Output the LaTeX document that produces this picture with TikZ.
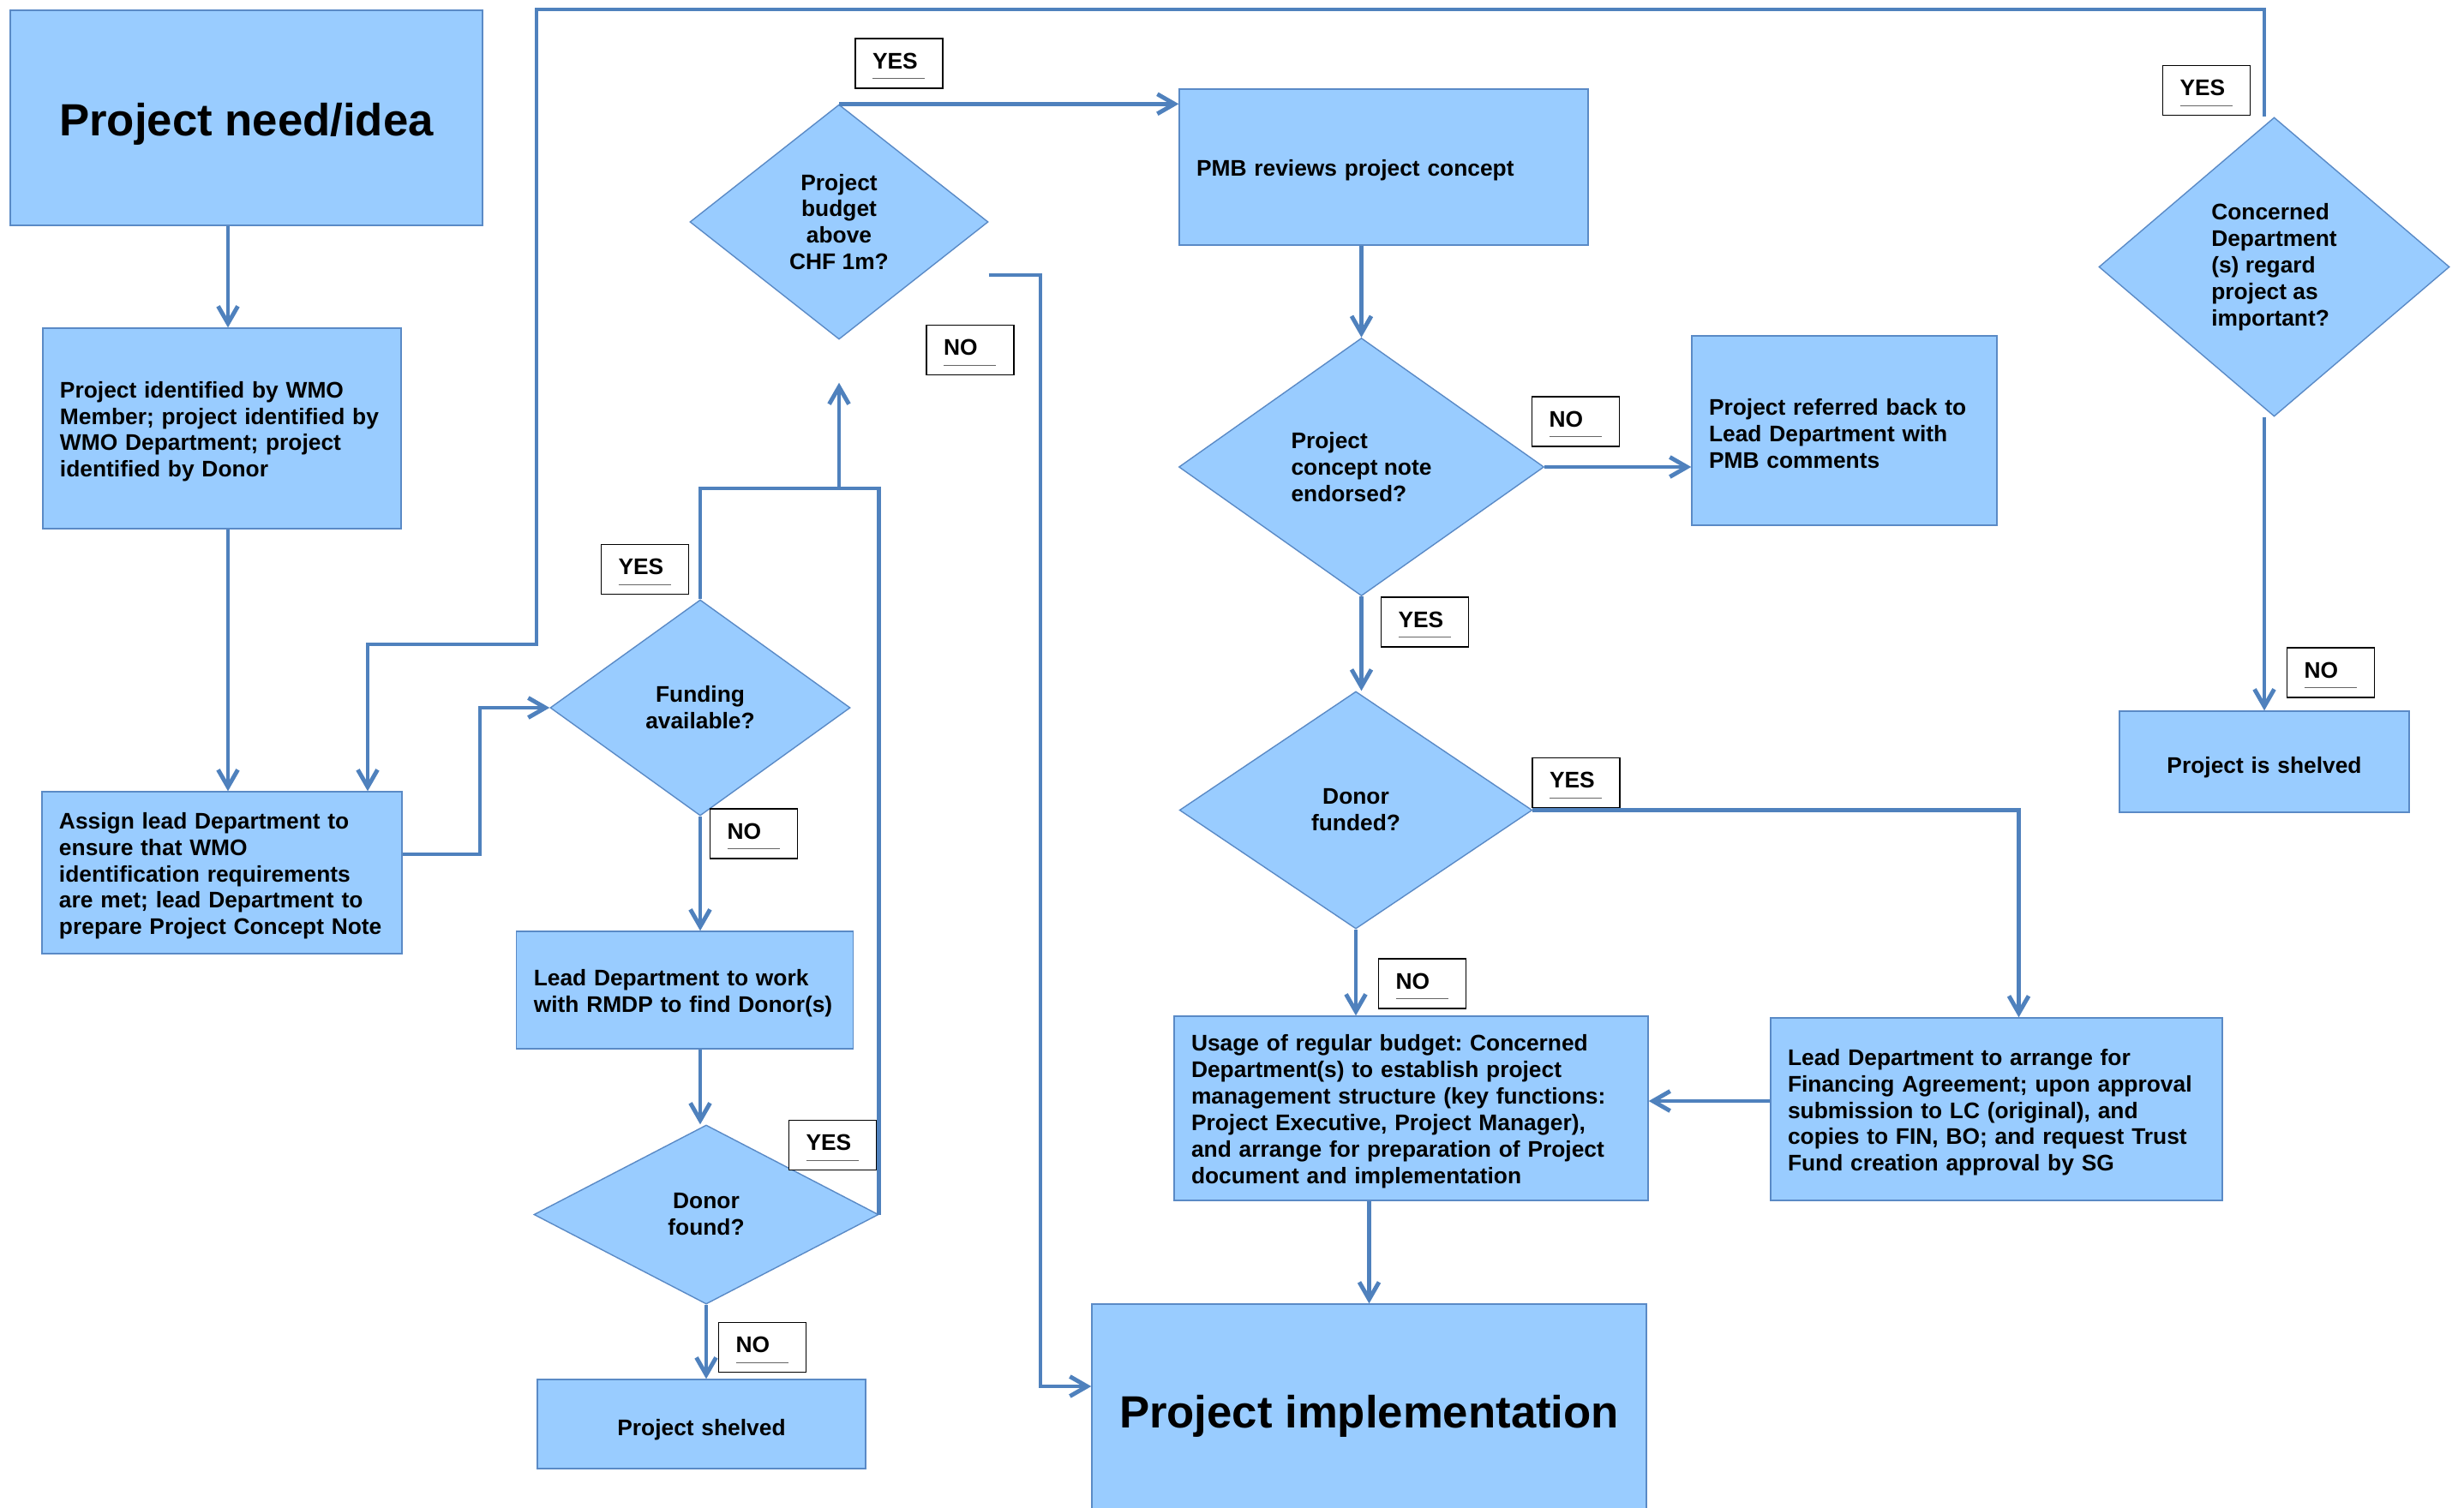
\documentclass[tikz,border=0pt]{standalone}
\usepackage{fontspec}
\setmainfont{Liberation Sans}
\usetikzlibrary{arrows.meta, positioning, shapes.geometric}
\frenchspacing

\definecolor{flowblue}{HTML}{4F81BD}
\definecolor{boxblue}{HTML}{99CCFF}
\definecolor{edgeblue}{HTML}{5A8AC6}

\newcommand{\smalltext}{\fontsize{15}{17.6}\selectfont\bfseries}
\newcommand{\bigtext}{\fontsize{30}{36}\selectfont\bfseries}

\begin{document}
\begin{tikzpicture}[
    y=-1cm,
    stepbox/.style={rectangle, draw=edgeblue, line width=0.8pt, fill=boxblue, inner xsep=0.4cm, text height=0.53cm, align=left, font=\smalltext},
    oneline/.style={align=center, text depth=0pt},
    bigbox/.style={rectangle, draw=edgeblue, line width=0.8pt, fill=boxblue, text height=0.84cm, text depth=0pt, align=center, font=\bigtext},
    decision/.style={diamond, draw=edgeblue, line width=0.8pt, fill=boxblue, inner sep=0pt, align=center, font=\smalltext},
    answer/.style={rectangle, draw=black, line width=0.9pt, fill=white, minimum width=2.04cm, minimum height=1.16cm, text width=1.24cm, text height=0.3cm, text depth=0.06cm, inner xsep=0.4cm, inner ysep=0pt, align=left, font=\smalltext,
        path picture={\draw[black!60, line width=0.5pt] ([xshift=0.4cm, yshift=0.23cm]path picture bounding box.south west) -- ++(1.22cm,0);}},
    arrow/.style={-{Straight Barb[length=0.4cm, width=0.46cm]}, draw=flowblue, line width=2.8pt},
    flowline/.style={draw=flowblue, line width=2.8pt}
]
\useasboundingbox (0,0) rectangle (57.5,35.18);

% ==== Left column ====
\node[bigbox, minimum width=11.02cm, minimum height=5.02cm] (idea) at (5.75,2.75) {Project need/idea};
\node[stepbox, text width=7.56cm, minimum height=4.68cm] (identified) at (5.18,10.00) {Project identified by WMO\\ Member; project identified by\\ WMO Department; project\\ identified by Donor};
\node[stepbox, text width=7.60cm, minimum height=3.78cm] (assign) at (5.18,20.37) {Assign lead Department to\\ ensure that WMO\\ identification requirements\\ are met; lead Department to\\ prepare Project Concept Note};

% ==== Funding branch ====
\node[decision, minimum width=6.96cm, minimum height=5.48cm] (budget) at (19.58,5.18) {Project\\ budget\\ above\\ CHF 1m?};
\node[decision, minimum width=7.00cm, minimum height=5.04cm] (funding) at (16.34,16.52) {Funding\\ available?};
\node[stepbox, text width=7.05cm, minimum height=2.74cm] (leadwork) at (15.98,23.11) {Lead Department to work\\ with RMDP to find Donor(s)};
\node[decision, minimum width=8.04cm, minimum height=4.18cm] (found) at (16.48,28.35) {Donor\\ found?};
\node[stepbox, oneline, text width=6.86cm, minimum height=2.08cm] (shelvedL) at (16.37,33.24) {Project shelved};

% ==== Middle column ====
\node[stepbox, text width=8.74cm, minimum height=3.64cm] (pmb) at (32.29,3.90) {PMB reviews project concept};
\node[decision, minimum width=8.52cm, minimum height=6.02cm, align=left] (endorsed) at (31.77,10.90) {Project\\ concept note\\ endorsed?};
\node[stepbox, text width=6.32cm, minimum height=4.42cm] (referred) at (43.04,10.05) {Project referred back to\\ Lead Department with\\ PMB comments};
\node[decision, minimum width=8.23cm, minimum height=5.54cm] (funded) at (31.64,18.91) {Donor\\ funded?};
\node[stepbox, text width=10.26cm, minimum height=4.30cm] (usage) at (32.93,25.87) {Usage of regular budget: Concerned\\ Department(s) to establish project\\ management structure (key functions:\\ Project Executive, Project Manager),\\ and arrange for preparation of Project\\ document and implementation};
\node[stepbox, text width=9.74cm, minimum height=4.26cm] (arrange) at (46.59,25.89) {Lead Department to arrange for\\ Financing Agreement; upon approval\\ submission to LC (original), and\\ copies to FIN, BO; and request Trust\\ Fund creation approval by SG};
\node[bigbox, minimum width=12.94cm, minimum height=4.92cm] (impl) at (31.95,32.90) {Project implementation};

% ==== Right column ====
\node[decision, minimum width=8.18cm, minimum height=6.98cm, align=left] (concerned) at (53.07,6.23) {Concerned\\ Department\\ (s) regard\\ project as\\ important?};
\node[stepbox, oneline, text width=5.96cm, minimum height=2.36cm] (shelvedR) at (52.84,17.78) {Project is shelved};

% ==== Bends ====
\coordinate (col) at (5.32,0);
\coordinate (bend1) at (11.20,16.52);
\coordinate (topleft) at (12.52,0.22);
\coordinate (loopbend) at (8.58,15.04);
\coordinate (nobend) at (24.28,32.36);
\coordinate (merge) at (19.58,11.40);

% ==== Arrows ====
\draw[arrow] (idea.south -| col) -- (identified.north -| col);
\draw[arrow] (identified.south -| col) -- (assign.north -| col);
\draw[arrow] ([yshift=4.3mm]assign.east) -| (bend1) -- (funding.west);
\draw[arrow] (concerned.north -| shelvedR.north) |- (topleft) |- (loopbend) -- (loopbend |- assign.north);

\draw[arrow] (funding.north) |- (merge) -- ([yshift=-1.0cm]budget.south);
\draw[flowline] (found.east) |- (merge);
\draw[arrow] (funding.south) -- (funding.south |- leadwork.north);
\draw[arrow] (leadwork.south -| funding.south) -- (found.north -| funding.south);
\draw[arrow] (found.south) -- (found.south |- shelvedL.north);

\draw[arrow] (budget.north) -- (budget.north -| pmb.west);
\draw[arrow] ([yshift=-1.24cm]budget.east) -| (nobend) -- (nobend -| impl.west);

\draw[arrow] (pmb.south -| endorsed.north) -- (endorsed.north);
\draw[arrow] (endorsed.east) -- (endorsed.east -| referred.west);
\draw[arrow] (endorsed.south) -- (endorsed.south |- funded.north);
\draw[arrow] (funded.east) -| ([xshift=5.2mm]arrange.north);
\draw[arrow] (funded.south) -- (funded.south |- usage.north);
\draw[arrow] ([yshift=1.9mm]arrange.west) -- ([yshift=1.9mm]arrange.west -| usage.east);
\draw[arrow] (impl.north |- usage.south) -- (impl.north);

\draw[arrow] (concerned.south -| shelvedR.north) -- (shelvedR.north);

% ==== Answer labels ====
\node[answer] (yesbudget) at (20.98,1.48) {YES};
\node[answer] (nobudget) at (22.64,8.17) {NO};
\node[answer] (yesfunding) at (15.05,13.29) {YES};
\node[answer] (nofunding) at (17.59,19.46) {NO};
\node[answer] (yesfound) at (19.43,26.73) {YES};
\node[answer] (nofound) at (17.79,31.45) {NO};
\node[answer] (noendorsed) at (36.77,9.84) {NO};
\node[answer] (yesendorsed) at (33.25,14.52) {YES};
\node[answer] (yesfunded) at (36.78,18.27) {YES};
\node[answer] (nofunded) at (33.19,22.96) {NO};
\node[answer] (yesconcerned) at (51.49,2.11) {YES};
\node[answer] (noconcerned) at (54.39,15.70) {NO};

\end{tikzpicture}
\end{document}
